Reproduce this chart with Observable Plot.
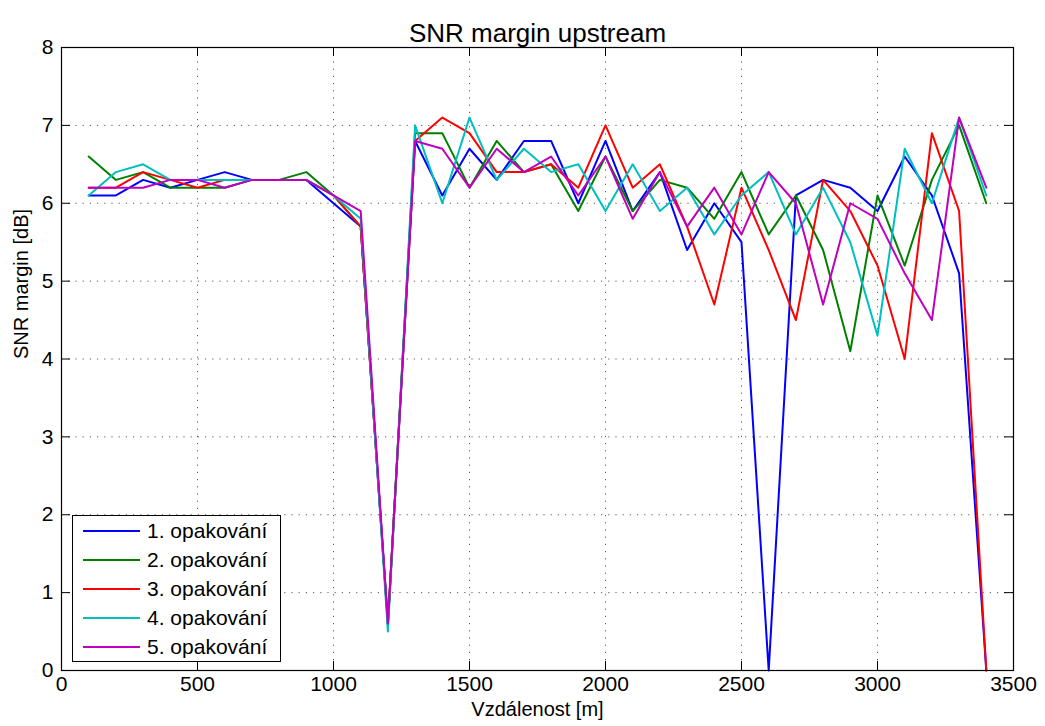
<!DOCTYPE html>
<html>
<head>
<meta charset="utf-8">
<script src="https://cdn.jsdelivr.net/npm/d3@7"></script>
<script src="https://cdn.jsdelivr.net/npm/@observablehq/plot@0.6"></script>
<style>
  html, body { margin: 0; padding: 0; background: white; }
  #wrap { position: relative; width: 1045px; height: 726px; font-family: "Liberation Sans", Arial, sans-serif; }
  #legend { position: absolute; left: 72px; top: 515px; width: 209px; height: 147px; border: 1px solid black; background: white; box-sizing: border-box; padding-top: 0px; }
  .row { height: 29px; display: flex; align-items: center; font-size: 21px; color: black; }
  .sw { width: 57px; height: 0; border-top: 2px solid; margin-left: 10px; margin-right: 7px; }
</style>
</head>
<body>
<div id="wrap"></div>
<script>
const distances = [100,200,300,400,500,600,700,800,900,1000,1100,1200,1300,1400,1500,1600,1700,1800,1900,2000,2100,2200,2300,2400,2500,2600,2700,2800,2900,3000,3100,3200,3300,3400];
const rep1 = [6.1,6.1,6.3,6.2,6.3,6.4,6.3,6.3,6.3,6.0,5.7,0.6,6.8,6.1,6.7,6.3,6.8,6.8,6.0,6.8,5.9,6.4,5.4,6.0,5.5,0.0,6.1,6.3,6.2,5.9,6.6,6.1,5.1,0.0];
const rep2 = [6.6,6.3,6.4,6.2,6.2,6.2,6.3,6.3,6.4,6.1,5.7,0.6,6.9,6.9,6.2,6.8,6.4,6.5,5.9,6.6,5.9,6.3,6.2,5.8,6.4,5.6,6.1,5.4,4.1,6.1,5.2,6.3,7.0,6.0];
const rep3 = [6.2,6.2,6.4,6.3,6.2,6.3,6.3,6.3,6.3,6.1,5.7,0.6,6.8,7.1,6.9,6.4,6.4,6.5,6.2,7.0,6.2,6.5,5.7,4.7,6.2,5.4,4.5,6.3,5.9,5.2,4.0,6.9,5.9,0.0];
const rep4 = [6.1,6.4,6.5,6.3,6.3,6.3,6.3,6.3,6.3,6.1,5.8,0.5,7.0,6.0,7.1,6.3,6.7,6.4,6.5,5.9,6.5,5.9,6.2,5.6,6.1,6.4,5.6,6.2,5.5,4.3,6.7,6.0,7.1,6.1];
const rep5 = [6.2,6.2,6.2,6.3,6.3,6.2,6.3,6.3,6.3,6.1,5.9,0.6,6.8,6.7,6.2,6.7,6.4,6.6,6.1,6.6,5.8,6.4,5.7,6.2,5.6,6.4,6.0,4.7,6.0,5.8,5.1,4.5,7.1,6.2];
const seriesNames = ["1. opakování","2. opakování","3. opakování","4. opakování","5. opakování"];
const seriesColors = ["#0000ff","#008000","#ff0000","#00bfbf","#bf00bf"];
const xTicks = [0,500,1000,1500,2000,2500,3000,3500];
const yTicks = [0,1,2,3,4,5,6,7,8];
const titleText = "SNR margin upstream";
const xLabel = "Vzdálenost [m]";
const yLabel = "SNR margin [dB]";

const allSeries = [rep1, rep2, rep3, rep4, rep5];
const data = [];
allSeries.forEach((vals, i) => vals.forEach((v, j) => data.push({series: seriesNames[i], x: distances[j], y: v})));

const W = 1045, H = 726, mL = 61, mR = 32, mT = 47, mB = 56;
const fw = W - mL - mR, fh = H - mT - mB;
const gridStyle = {stroke: "#000", strokeOpacity: 0.65, strokeWidth: 1, strokeDasharray: "1.2,6"};

const chart = Plot.plot({
  width: W, height: H,
  marginLeft: mL, marginRight: mR, marginTop: mT, marginBottom: mB,
  style: {fontFamily: "'Liberation Sans', Arial, sans-serif", fontSize: "21px", background: "white", color: "black", overflow: "visible"},
  x: {domain: [0, 3500], label: null},
  y: {domain: [0, 8], label: null},
  color: {domain: seriesNames, range: seriesColors},
  marks: [
    Plot.gridX(xTicks, gridStyle),
    Plot.gridY(yTicks, gridStyle),
    Plot.axisX(xTicks, {tickSize: 0, tickPadding: 6, fontSize: 21, tickFormat: d => String(d)}),
    Plot.axisY(yTicks, {tickSize: 0, tickPadding: 8, fontSize: 21, tickFormat: d => String(d)}),
    Plot.tickX(xTicks, {x: d => d, insetTop: fh - 9, stroke: "black"}),
    Plot.tickX(xTicks, {x: d => d, insetBottom: fh - 9, stroke: "black"}),
    Plot.tickY(yTicks, {y: d => d, insetRight: fw - 9, stroke: "black"}),
    Plot.tickY(yTicks, {y: d => d, insetLeft: fw - 9, stroke: "black"}),
    Plot.line(data, {x: "x", y: "y", z: "series", stroke: "series", strokeWidth: 2}),
    Plot.frame({stroke: "black", strokeWidth: 1.2}),
    Plot.text([titleText], {frameAnchor: "top", dy: -24, fontSize: 26}),
    Plot.text([xLabel], {frameAnchor: "bottom", dy: 45, fontSize: 20}),
    Plot.text([yLabel], {frameAnchor: "left", dx: -40, rotate: -90, fontSize: 20})
  ]
});

const wrap = document.getElementById("wrap");
wrap.appendChild(chart);

const legend = document.createElement("div");
legend.id = "legend";
seriesNames.forEach((name, i) => {
  const row = document.createElement("div");
  row.className = "row";
  const sw = document.createElement("div");
  sw.className = "sw";
  sw.style.borderTopColor = seriesColors[i];
  const label = document.createElement("span");
  label.textContent = name;
  row.appendChild(sw);
  row.appendChild(label);
  legend.appendChild(row);
});
wrap.appendChild(legend);
</script>
</body>
</html>
